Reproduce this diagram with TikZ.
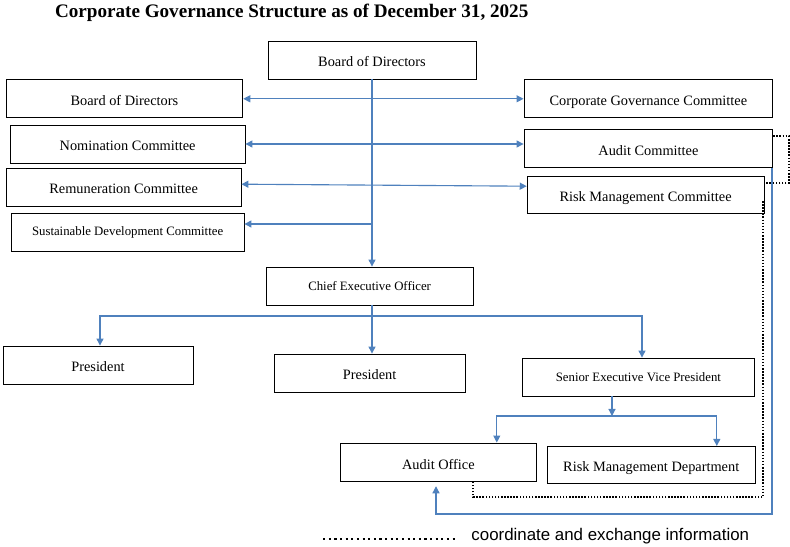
\documentclass[tikz,border=0pt]{standalone}
\usepackage{fontspec}
\setmainfont{Liberation Serif}
\setsansfont{Liberation Sans}
\usetikzlibrary{arrows.meta}
\definecolor{linkblue}{RGB}{79,129,189}

\begin{document}
\begin{tikzpicture}[
  frame/.style={draw, line width=0.6pt, minimum height=0.95cm, inner sep=0pt},
  box/.style={frame, text height=9.8pt, text depth=0pt, font=\fontsize{10.2}{12}\selectfont},
  smallbox/.style={frame, font=\fontsize{9.1}{11}\selectfont},
  link/.style={draw=linkblue, line width=0.8pt},
  flow/.style={link, -{Triangle[length=5pt,width=5pt]}},
  both/.style={link, {Triangle[length=5pt,width=5pt]}-{Triangle[length=5pt,width=5pt]}},
  info/.style={line width=1.1pt, dash pattern=on 1.1pt off 1.1pt},
  keydots/.style={line width=1.5pt, dash pattern=on 1.5pt off 2.5pt}]
  \useasboundingbox (0,0) rectangle (19.75,13.65);
  \node[anchor=west, inner sep=0pt, font=\bfseries\fontsize{13.6}{16}\selectfont] (title) at (1.37,13.32) {Corporate Governance Structure as of December 31, 2025};

  % board and committees
  \node[box, minimum width=5.2cm] (bod) at (9.3,12.15) {Board of Directors};
  \node[box, minimum width=5.92cm] (bodl) at (3.11,11.18) {Board of Directors};
  \node[box, minimum width=6.22cm] (cgc) at (16.21,11.18) {Corporate Governance Committee};
  \node[box, minimum width=5.87cm] (nom) at (3.19,10.05) {Nomination Committee};
  \node[box, minimum width=6.22cm] (audc) at (16.21,9.94) {Audit Committee};
  \node[box, minimum width=5.87cm] (rem) at (3.09,8.975) {Remuneration Committee};
  \node[box, minimum width=5.92cm, minimum height=0.93cm] (rmc) at (16.14,8.775) {Risk Management Committee};
  \node[smallbox, minimum width=5.82cm] (sdc) at (3.19,7.85) {Sustainable Development Committee};

  % management
  \node[smallbox, minimum width=5.17cm] (ceo) at (9.24,6.5) {Chief Executive Officer};
  \node[box, minimum width=4.75cm] (presl) at (2.45,4.525) {President};
  \node[box, minimum width=4.77cm] (presm) at (9.24,4.325) {President};
  \node[smallbox, minimum width=5.82cm] (sevp) at (15.96,4.225) {Senior Executive Vice President};
  \node[box, minimum width=4.92cm, minimum height=0.97cm] (ao) at (10.96,2.09) {Audit Office};
  \node[box, minimum width=5.2cm, minimum height=0.93cm] (rmd) at (16.28,2.025) {Risk Management Department};

  % legend
  \node[anchor=base west, inner sep=0pt, font=\sffamily\fontsize{12}{14}\selectfont] (key) at (11.78,0.15) {coordinate and exchange information};
  \coordinate (keyA) at (8.08,0.17);
  \coordinate (keyB) at (11.45,0.17);
  \draw[keydots] (keyA) -- (keyB);

  % reporting lines
  \draw[flow] (bod.south) -- (bod.south |- ceo.north);
  \draw[both] (bodl.east) -- (cgc.west);
  \draw[both] (nom.east) -- (nom.east -| audc.west);
  \draw[both] ([yshift=0.07cm]rem.east) -- ([yshift=0.22cm]rmc.west);
  \coordinate (sdcin) at ([yshift=0.2cm]sdc.east);
  \draw[flow] (sdcin -| bod.south) -- (sdcin);

  \coordinate (split) at (9.3,5.75);
  \draw[link] (ceo.south -| split) -- (split);
  \draw[flow] (split) -- (split |- presm.north);
  \draw[flow] (split) -| ([xshift=0.05cm]presl.north);
  \draw[flow] (split) -| ([xshift=0.09cm]sevp.north);

  \coordinate (fork) at (15.3,3.25);
  \draw[flow] (sevp.south -| fork) -- (fork);
  \draw[flow] (fork) -| ([xshift=1.46cm]ao.north);
  \draw[flow] (fork) -| ([xshift=1.64cm]rmd.north);

  \coordinate (auout) at ([xshift=-0.03cm]audc.south east);
  \coordinate (loopy) at (0,0.8);
  \draw[flow] (auout) -- (auout |- loopy) -| ([xshift=-0.06cm,yshift=-0.1cm]ao.south);

  % coordination lines
  \coordinate (audout) at ([yshift=0.31cm]audc.east);
  \coordinate (rmcin) at ([yshift=0.3cm]rmc.east);
  \coordinate (edge) at (19.72,0);
  \draw[info] (audout) -- (audout -| edge) |- (rmcin);
  \coordinate (rmcout) at ([xshift=-0.03cm,yshift=-0.15cm]rmc.east);
  \coordinate (infoy) at (0,1.225);
  \draw[info] (rmcout) -- (rmcout |- infoy) -| ([xshift=0.87cm]ao.south);
\end{tikzpicture}
\end{document}
